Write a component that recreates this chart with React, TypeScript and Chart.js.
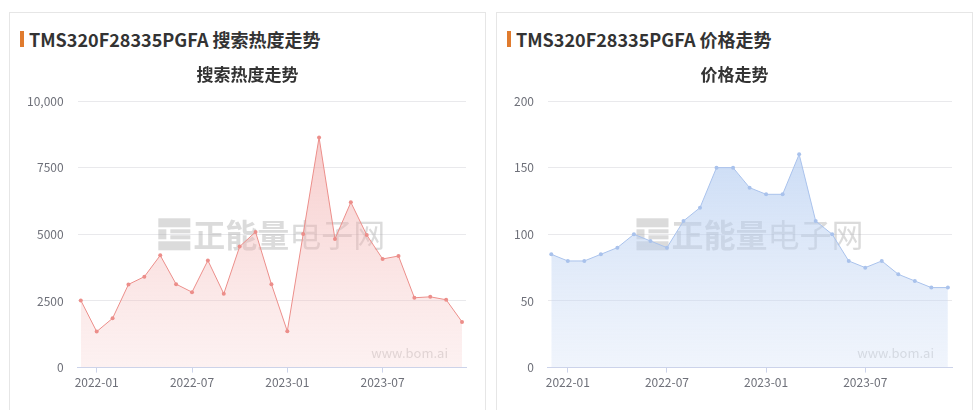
import React, { useEffect, useRef } from "react";
import { Chart, registerables } from "chart.js";

Chart.register(...registerables);

const months = [
  "2021-12", "2022-01", "2022-02", "2022-03", "2022-04", "2022-05", "2022-06",
  "2022-07", "2022-08", "2022-09", "2022-10", "2022-11", "2022-12",
  "2023-01", "2023-02", "2023-03", "2023-04", "2023-05", "2023-06",
  "2023-07", "2023-08", "2023-09", "2023-10", "2023-11", "2023-12",
];
const searchHeat = [
  2520, 1350, 1850, 3120, 3410, 4210, 3130, 2830, 4020, 2770, 4540, 5090, 3130,
  1365, 5010, 8635, 4825, 6200, 4975, 4075, 4185, 2620, 2655, 2545, 1715,
];
const price = [
  85, 80, 80, 85, 90, 100, 95, 90, 110, 120, 150, 150, 135,
  130, 130, 160, 110, 100, 80, 75, 80, 70, 65, 60, 60,
];
const xTickIndices = [1, 7, 13, 19];
const heatTickLabels = ["0", "2500", "5000", "7500", "10,000"];
const priceTickLabels = ["0", "50", "100", "150", "200"];

const FONT = "'Noto Sans CJK SC', 'Noto Sans', sans-serif";

const watermarkPlugin = {
  id: "watermark",
  beforeDatasetsDraw(chart: any) {
    const { ctx, chartArea } = chart;
    const cx = (chartArea.left + chartArea.right) / 2;
    const cy = (chartArea.top + chartArea.bottom) / 2;
    ctx.save();
    const size = 32;
    ctx.font = `bold ${size}px ${FONT}`;
    const w1 = ctx.measureText("正能量").width;
    ctx.font = `${size}px ${FONT}`;
    const w2 = ctx.measureText("电子网").width;
    const logo = 32;
    const gap = 3;
    const total = logo + gap + w1 + w2;
    let x = cx - total / 2;
    const top = cy - logo / 2;
    ctx.fillStyle = "rgba(170,170,170,0.42)";
    // logo
    ctx.fillRect(x, top, logo, 9);
    ctx.fillRect(x, top + 11, 8, 10);
    ctx.fillRect(x + 12, top + 11, 20, 4);
    ctx.fillRect(x + 12, top + 17, 20, 4);
    ctx.fillRect(x, top + 23, logo, 9);
    x += logo + gap;
    ctx.textBaseline = "middle";
    ctx.textAlign = "left";
    ctx.font = `bold ${size}px ${FONT}`;
    ctx.fillText("正能量", x, cy + 1);
    x += w1;
    ctx.font = `${size}px ${FONT}`;
    ctx.fillText("电子网", x, cy + 1);
    // site mark
    ctx.font = `13px ${FONT}`;
    ctx.textAlign = "right";
    ctx.fillStyle = "rgba(170,170,170,0.45)";
    ctx.fillText("www.bom.ai", chartArea.right - 18, chartArea.bottom - 15);
    ctx.restore();
  },
};

type Props = {
  left: number;
  header: string;
  title: string;
  values: number[];
  yMax: number;
  yStep: number;
  yTicks: string[];
  lineColor: string;
  fillTop: string;
  fillBottom: string;
  padLeft: number;
  padRight: number;
};

function ChartCard(p: Props) {
  const ref = useRef<HTMLCanvasElement | null>(null);
  useEffect(() => {
    if (!ref.current) return;
    const chart = new Chart(ref.current, {
      type: "line",
      data: {
        datasets: [
          {
            data: p.values.map((v, i) => ({ x: i, y: v })),
            borderColor: p.lineColor,
            borderWidth: 1,
            pointRadius: 2,
            pointBorderWidth: 0,
            pointBackgroundColor: p.lineColor,
            tension: 0,
            fill: "origin",
            backgroundColor: (c: any) => {
              const area = c.chart.chartArea;
              if (!area) return p.fillTop;
              const g = c.chart.ctx.createLinearGradient(0, area.top, 0, area.bottom);
              g.addColorStop(0, p.fillTop);
              g.addColorStop(1, p.fillBottom);
              return g;
            },
          },
        ],
      },
      options: {
        responsive: false,
        animation: false,
        devicePixelRatio: 1,
        layout: { padding: { left: p.padLeft, right: p.padRight, top: 46, bottom: 7 } },
        plugins: {
          legend: { display: false },
          tooltip: { enabled: false },
          title: { display: false },
        },
        scales: {
          x: {
            type: "linear",
            min: -0.2,
            max: 24.25,
            afterBuildTicks: (scale: any) => {
              scale.ticks = xTickIndices.map((v) => ({ value: v }));
            },
            ticks: {
              autoSkip: false,
              maxRotation: 0,
              padding: 3,
              color: "#6e7079",
              font: { family: FONT, size: 12 },
              callback: (v: any) => months[v as number] ?? "",
            },
            grid: {
              drawOnChartArea: false,
              drawTicks: true,
              tickLength: 5,
              color: "#ccd3ea",
            },
            border: { display: true, color: "#ccd3ea" },
          },
          y: {
            min: 0,
            max: p.yMax,
            ticks: {
              stepSize: p.yStep,
              padding: 14,
              color: "#6e7079",
              font: { family: FONT, size: 12 },
              callback: (_v: any, i: number) => p.yTicks[i],
            },
            grid: { color: "#e9e9ec", drawTicks: false },
            border: { display: false },
          },
        },
      },
      plugins: [watermarkPlugin],
    } as any);
    return () => chart.destroy();
  }, []);

  return (
    <div
      style={{
        position: "absolute",
        left: p.left,
        top: 12,
        width: 477,
        height: 420,
        boxSizing: "border-box",
        border: "1px solid #e6e6e6",
        background: "#fff",
      }}
    >
      <div
        style={{
          position: "absolute",
          left: 10,
          top: 18,
          width: 4,
          height: 16,
          background: "#e07b2e",
        }}
      />
      <div
        style={{
          position: "absolute",
          left: 19,
          top: 14,
          height: 24,
          lineHeight: "24px",
          fontFamily: FONT,
          fontWeight: "bold",
          fontSize: 18,
          color: "#333",
          whiteSpace: "nowrap",
        }}
      >
        {p.header}
      </div>
      <canvas
        ref={ref}
        width={475}
        height={345}
        style={{ position: "absolute", left: 0, top: 42, width: 475, height: 345 }}
      />
      <div
        style={{
          position: "absolute",
          left: 0,
          width: 475,
          top: 49,
          height: 24,
          lineHeight: "24px",
          textAlign: "center",
          fontFamily: FONT,
          fontWeight: "bold",
          fontSize: 17,
          color: "#333",
          whiteSpace: "nowrap",
        }}
      >
        {p.title}
      </div>
    </div>
  );
}

export default function App() {
  return (
    <div style={{ position: "fixed", left: 0, top: 0, width: 976, height: 410, background: "#fff", overflow: "hidden" }}>
      <ChartCard
        left={9}
        header="TMS320F28335PGFA 搜索热度走势"
        title="搜索热度走势"
        values={searchHeat}
        yMax={10000}
        yStep={2500}
        yTicks={heatTickLabels}
        lineColor="#ec8e8a"
        fillTop="rgba(238,150,148,0.55)"
        fillBottom="rgba(246,200,200,0.25)"
        padLeft={3}
        padRight={19}
      />
      <ChartCard
        left={496}
        header="TMS320F28335PGFA 价格走势"
        title="价格走势"
        values={price}
        yMax={200}
        yStep={50}
        yTicks={priceTickLabels}
        lineColor="#a9c2ec"
        fillTop="rgba(165,195,238,0.7)"
        fillBottom="rgba(205,220,245,0.3)"
        padLeft={3}
        padRight={20}
      />
    </div>
  );
}
